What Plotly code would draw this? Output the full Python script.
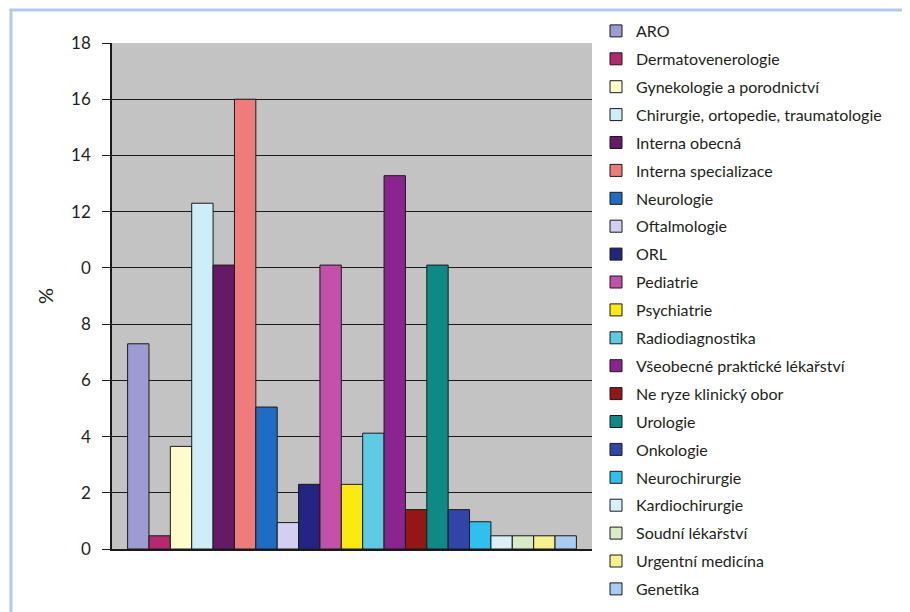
import plotly.graph_objects as go

categories = ["ARO", "Dermatovenerologie", "Gynekologie a porodnictví",
              "Chirurgie, ortopedie, traumatologie", "Interna obecná",
              "Interna specializace", "Neurologie", "Oftalmologie", "ORL",
              "Pediatrie", "Psychiatrie", "Radiodiagnostika",
              "Všeobecné praktické lékařství", "Ne ryze klinický obor",
              "Urologie", "Onkologie", "Neurochirurgie", "Kardiochirurgie",
              "Soudní lékařství", "Urgentní medicína", "Genetika"]
values = [7.3, 0.47, 3.65, 12.3, 10.1, 16.0, 5.05, 0.94, 2.3, 10.1, 2.3,
          4.12, 13.28, 1.4, 10.1, 1.4, 0.97, 0.47, 0.47, 0.47, 0.47]
colors = ["#9C9BD2", "#B4296E", "#FFFCCB", "#CFEDF8", "#661A66", "#F07B7B",
          "#1F6DC2", "#D2CFF0", "#232680", "#C251A9", "#FAEA10", "#5ECBE2",
          "#8A2590", "#951616", "#0E8A86", "#3344A8", "#30C0EE", "#DAEFF8",
          "#D9EBC6", "#F6F08E", "#A8CDF0"]
tick_vals = [0, 2, 4, 6, 8, 10, 12, 14, 16, 18]
tick_text = ["0", "2", "4", "6", "8", "0", "12", "14", "16", "18"]

fig = go.Figure()
for i, (c, v, col) in enumerate(zip(categories, values, colors)):
    fig.add_trace(go.Bar(
        x=[""], y=[v], name=c, legendgroup=str(i),
        marker=dict(color=col, line=dict(color="#1a1a1a", width=1)),
    ))

# page has an 8px body margin, so the figure is 902x604 placed at (8, 8)
W, H = 902, 604
L, R, T, B = 104, 318, 35, 63
pw, ph = W - L - R, H - T - B

def px(x):
    return (x - L) / pw

def py(y):
    return (H - B - y) / ph

fig.update_layout(
    width=W, height=H,
    margin=dict(l=L, r=R, t=T, b=B, autoexpand=False),
    paper_bgcolor="white",
    plot_bgcolor="#C3C3C3",
    barmode="group", bargap=0.065, bargroupgap=0,
    font=dict(family="Lato, Open Sans, sans-serif", color="#231F20"),
    showlegend=True,
    legend=dict(x=px(588), y=py(6), xanchor="left", yanchor="top",
                font=dict(size=16, color="#231F20"),
                tracegroupgap=4.1, maxheight=620,
                bgcolor="rgba(0,0,0,0)"),
    shapes=[
        dict(type="line", xref="paper", yref="paper",
             x0=px(3), x1=px(3), y0=py(1), y1=py(610),
             line=dict(color="#B5C7EA", width=3)),
        dict(type="line", xref="paper", yref="paper",
             x0=px(1.5), x1=px(910), y0=py(2), y1=py(2),
             line=dict(color="#B5C7EA", width=3)),
    ],
)
fig.update_xaxes(showline=True, linecolor="#1a1a1a", linewidth=1.5,
                 showgrid=False, showticklabels=False, fixedrange=True)
fig.update_yaxes(range=[0, 18], tickvals=tick_vals, ticktext=tick_text,
                 showline=True, linecolor="#1a1a1a", linewidth=1.5,
                 showgrid=True, gridcolor="#1a1a1a", gridwidth=1.3,
                 ticks="outside", ticklen=8, tickcolor="#1a1a1a",
                 ticklabelstandoff=8, zeroline=False,
                 tickfont=dict(size=17, color="#231F20"),
                 title=dict(text="%", font=dict(size=20, color="#231F20"),
                            standoff=12))
fig.write_html("out.html")
